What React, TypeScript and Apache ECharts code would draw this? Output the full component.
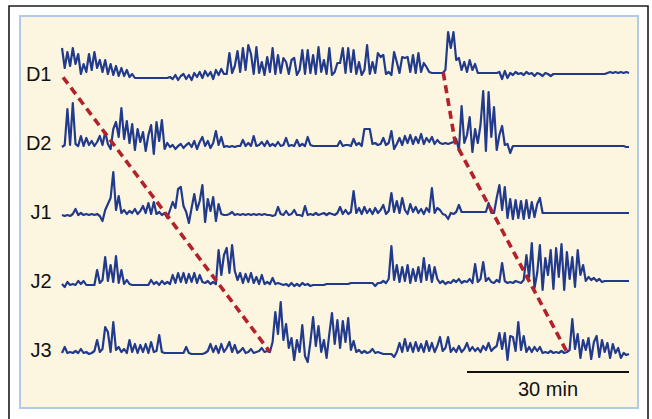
import React, { useEffect, useRef } from "react";
import * as echarts from "echarts";

// Trace names (top to bottom)
const traceNames = ["D1", "D2", "J1", "J2", "J3"];

// Sampling step of the traces (minutes)
const STEP = 0.5;

// Amplitudes (arbitrary units) sampled every 0.5 min, 0..105 min
const d1 = [
  30, 10, 26, 12, 30, 14, 24, 4, 14, 6, 24, 8, 26, 10, 18, 6, 18, 4, 14, 3, 12, 2, 10, 2, 8, 1, 4,
  0, 0, 0, 0, 0, 0, 0, 0, 0, 0, 0, 0, 0,
  1, -1, 3, -2, 2, 4, -1, 3, -2, 5, 1, 6, 0, 7, 2, 6, -1, 8, 3, 9, 4,
  4, 25, 5, 12, 27, 6, 30, 8, 33, 24, 4, 31, 5, 16, 3, 21, 6, 30, 4, 23, 5, 20, 16, 4, 18, 20, 3, 8, 28, 4,
  28, 5, 23, 4, 31, 6, 18, 4, 30, 3, 6, 15, 15, 30, 5,
  30, 6, 28, 4, 16, 3, 8, 33, 4, 16, 5, 25, 21, 23, 4, 6, 3, 26, 16, 5, 21, 20, 21, 6, 23, 5, 25, 6, 15, 11, 6, 5,
  5, 5, 5, 5,
  8, 46, 30, 46, 18, 20, 8, 16, 6, 18, 8, 14, 5,
  5, 5, 5, 5, 5, 5,
  5, 6, -1, 7, 0, 5, 3, 6, 4, 5, 3, 6, 4, 5, 2, 5, 4, 2, 5, 4, 2,
  4, 4, 4, 4, 4, 4, 4, 4, 4, 4, 4, 4, 4, 4, 4, 4, 4, 4, 4, 4,
  5, 6, 5, 6, 5, 6, 5, 6, 5,
];

const d2 = [
  0, 2, 38, 2, 44, 3, 1, 11, 1, 9, 2, 6, 1, 5, 11, 2, 15, 3, -2, 18,
  25, 10, 39, 8, 26, 4, 23, -3, 18, 5, 15, -4, 12, 22, -7, 25, 6, 27, -2, 4,
  0, 2, -2, 1, 3, -1, 2, 4, 0, 6, -2, 5, 10, 1, 6, -1, 4, 16, 2, 10,
  0, 1, 0, 1, 0, 1, 1, 7, 1, 4, 1, 11, 1, 2, 5, 1, 6, 1, 3, 1,
  5, 1, 2, 9, 1, 2, 1, 7, 1, 3, 1, 10, 2, 1, 1, 1, 1, 1, 1, 1,
  1, 1, 1, 6, 1, 2, 2, 1, 8, 2, 4, 1, 18, 18, 18, 3, 4, 2, 3, 9,
  2, 4, 16, -2, 3, 9, 2, 11, 4, 12, 3, 10, 4, 13, 3, 9, 5, 10, 3, 7,
  4, 3, 4, 3, 4, 5, 8, -3, 41, 4, 12, 30, -5, 18, 4, 22, 56, -4, 55, 10,
  40, -3, 12, 21, 2, 3, -6, 1,
  1, 1, 1, 1, 1, 1, 1, 1, 1, 1, 1, 1, 1, 1, 1, 1, 1, 1, 1, 1,
  1, 1, 1, 1, 1, 1, 1, 1, 1, 1, 1, 1, 1, 1, 1, 1, 1, 1, 1, 1, 1, 0, 0,
];

const j1 = [
  1, 0, 1, 0, 2, 7, 1, 3, 1, 2, 1, 2, 1, 2, 0, -5, 6, 12, 18, 44,
  6, 20, 3, 6, 2, 5, 3, 7, 2, 5, 10, 3, 13, 2, 14, 2, 4, 1, 3, -2,
  6, 14, 8, 27, 29, 10, 4, -7, 8, 22, 6, 15, 31, -6, 17, 5, 19, -5, 12, 2,
  1, 1, 2, 4, 1, 2, 1, 2, 1, 2, 1, 2, 1, 2, 1, 2, 1, 1, 0, 1,
  9, 2, 1, 5, 1, 2, 6, 1, 1, 0, 10, 1, 2, 1, 3, 1, 2, 3, 1, 3,
  2, 1, 3, 9, 2, 6, 2, 4, 25, 3, 8, 2, 9, 3, 7, 2, 8, 3, 6, 11,
  2, 5, 23, 4, 15, 3, 18, 6, 2, 12, 4, 9, 3, 7, 2, 8, 4, 28, 3, 8,
  6, 2, 1, -3, 3, 2, 4, 11, 4, 4, 4, 4, 4, 4, 4, 4, 4, 4, 13, 3,
  3, 18, 31, 6, 29, -2, 17, -3, 16, -2, 15, -3, 16, -2, 14, -1, 12, 18, 3,
  3, 3, 3, 3, 3, 3, 3, 3, 3, 3, 3, 3, 3, 3, 3, 3, 3, 3, 3, 3,
  3, 3, 3, 3, 3, 3, 3, 3, 3, 3, 3, 3,
];

const j2 = [
  1, -2, 3, 0, 1, 0, 4, 1, 4, 0, 0, 0, 0, 15, 2, 5, 28, 4, 20, 3,
  29, 2, 15, 1, 5, 1, 0, 0, 0, 0, 0, 0, 0, 5, 1, 3, 0, 4, 1, 3,
  1, 10, 2, 12, 3, 12, 2, 11, 3, 12, 2, 10, 3, 2, 4, 1, 3, 1, 35, 10,
  30, 37, 12, 40, 14, 5, 12, 2, 11, 3, 12, 2, 8, 1, 10, 1, 3, 1, 7, 1,
  2, 1, 0, 1, -1, 2, -1, 1, -1, 2, 0, 1, -1, 0,
  0, 0, 0, 0, 1, 1, 1, 1, 1, 1, 1, 1, 1, 2, 2, 2, 2, 2, 2, 2, 2, 2,
  -1, 2, 2, 4, 2, 6, 39, 5, 20, 3, 18, 4, 20, 2, 16, 4, 18, 3, 27, 5,
  20, 3, 18, 6, 2, 4, 1, 3, 2, 5, 3, 6, 2, 4, 3, 6, 2, 21, 3, 6,
  23, 4, 7, 3, 2, 5, 3, 22, 4, 2, 3, 2, 4, 3, 2, 5, 30, 8, 42, -3,
  12, 40, -5, 27, 10, 35, -4, 37, 8, 41, -5, 33, 6, 28, -2, 35, 10, 20, 4, 8,
  5, 7, 4, 6, 3, 4,
  4, 4, 4, 4, 4, 4, 4, 4, 4,
];

const j3 = [
  1, 7, 1, 2, 1, 3, 1, 5, 1, 2, 0, 1, 3, 14, 2, 5, 27, 22, 2, 32,
  4, 7, 2, 5, 1, 14, 2, 10, 1, 9, 2, 10, 1, 12, 2, 3, 19, 2, 1, 1,
  1, 1, 1, 1, 1, 1, 7, 1, 0, 0, 0, 0, 0, 1, 3, 10, 2, 8, 1, 10,
  2, 6, 12, 2, 9, 1, 3, 6, 1, 2, 5, 1, 2, 3, 6, 2, 3, 2, 12, 42,
  20, 52, 14, 30, 6, 16, -6, 14, 2, 29, -2, -8, 12, 37, 8, 28, 2, 14, -4, 20,
  41, 10, 34, 6, 33, 12, 36, 4, 13, 2, 4, 1, 3, 1, 2, 5, 1, 2, 1, 0,
  0, 0, 0, -3, 2, 11, 2, 15, 3, 11, 2, 12, 3, 10, 2, 13, 3, 11, 2, 8,
  17, 3, 6, 17, 2, 6, 2, 8, 2, 5, 11, 3, 7, 3, 6, 2, 8, 4, 11, 3,
  6, 8, 21, 5, 21, -6, 18, 17, 3, 32, 4, 18, 2, 7, 2, 7, 3, 7, 1, 2,
  1, 3, 1, 2, 1, 3, 1, 2, 4, 35, 5, 20, -4, 14, 4, 16, -5, 12, 18, -3,
  14, 2, 11, -4, 10, 1, 6, -4, 1, -1, 0,
];

const traces = [d1, d2, j1, j2, j3];

// Red dashed guide lines: times (min) and trace rows (0 = D1 ... 4 = J3)
const guide1Times = [0.2, 38.5];
const guide1Rows = [-0.01, 3.97];
const guide2Times = [70.6, 72.8, 93.5];
const guide2Rows = [-0.08, 0.93, 3.97];

// Scale bar
const scaleBarStart = 75;
const scaleBarLength = 30;
const scaleBarLabel = "30 min";

// Layout / style
const SPACING = 69;
const SCALE_Y = -294;
const TRACE_COLOR = "#223A8C";
const RED = "#B3222A";
const FONT = "'Liberation Sans', Arial, Helvetica, sans-serif";

export default function App() {
  const ref = useRef<HTMLDivElement>(null);

  useEffect(() => {
    if (!ref.current) return;
    const chart = echarts.init(ref.current, null, { renderer: "svg" });

    const traceSeries = traces.map((vals, k) => ({
      type: "line",
      name: traceNames[k],
      data: vals.map((v, i) => [i * STEP, v - k * SPACING]),
      symbol: "none",
      showSymbol: false,
      silent: true,
      z: 2,
      lineStyle: { color: TRACE_COLOR, width: 2.2, join: "round" },
      markPoint: {
        symbol: "circle",
        symbolSize: 1,
        itemStyle: { color: "rgba(0,0,0,0)" },
        label: {
          show: true,
          position: "left",
          distance: 10,
          offset: [0, -4],
          formatter: traceNames[k],
          color: "#111",
          fontSize: 20,
          fontFamily: FONT,
        },
        data: [{ coord: [0, -k * SPACING] }],
      },
    }));

    const guideSeries = [
      { times: guide1Times, rows: guide1Rows },
      { times: guide2Times, rows: guide2Rows },
    ].map((g) => ({
      type: "line",
      data: g.times.map((t, i) => [t, -g.rows[i] * SPACING]),
      symbol: "none",
      silent: true,
      z: 4,
      lineStyle: { color: RED, width: 3.6, type: [8, 5], cap: "butt" },
    }));

    const scaleSeries = {
      type: "line",
      data: [
        [scaleBarStart, SCALE_Y],
        [scaleBarStart + scaleBarLength, SCALE_Y],
      ],
      symbol: "none",
      silent: true,
      z: 3,
      lineStyle: { color: "#111", width: 2 },
      markPoint: {
        symbol: "circle",
        symbolSize: 1,
        itemStyle: { color: "rgba(0,0,0,0)" },
        label: {
          show: true,
          position: "bottom",
          distance: 6,
          formatter: scaleBarLabel,
          color: "#111",
          fontSize: 20,
          fontFamily: FONT,
        },
        data: [{ coord: [scaleBarStart + scaleBarLength / 2, SCALE_Y] }],
      },
    };

    chart.setOption({
      animation: false,
      backgroundColor: "#ffffff",
      graphic: [
        {
          type: "rect",
          z: -10,
          shape: { x: 9, y: 6, width: 639, height: 430 },
          style: { fill: "#ffffff", stroke: "#1c1c1c", lineWidth: 1.6 },
        },
        {
          type: "rect",
          z: -9,
          shape: { x: 20, y: 16, width: 618, height: 392 },
          style: { fill: "#FCF5DF", stroke: "#B2C9EA", lineWidth: 2 },
        },
      ],
      grid: { left: 62, right: 23, top: 18, bottom: 11, containLabel: false },
      xAxis: { type: "value", min: 0, max: 105, show: false },
      yAxis: { type: "value", min: -330, max: 60, show: false },
      series: [...traceSeries, ...guideSeries, scaleSeries],
    });

    return () => chart.dispose();
  }, []);

  return (
    <div
      ref={ref}
      style={{ position: "fixed", left: 0, top: 0, width: 652, height: 419 }}
    />
  );
}
